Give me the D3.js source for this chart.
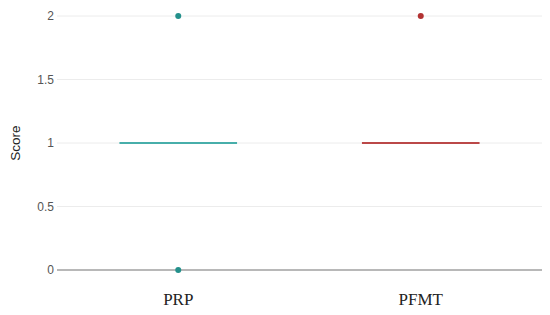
<!DOCTYPE html>
<html><head><meta charset="utf-8">
<script src="https://cdn.jsdelivr.net/npm/d3@7"></script>
<style>body{margin:0;background:#fff}svg{display:block}</style>
</head><body>
<svg id="c" width="550" height="315"></svg>
<script>
const categories = ["PRP", "PFMT"];
const q1 = [1, 1];
const medians = [1, 1];
const q3 = [1, 1];
const whiskerLow = [1, 1];
const whiskerHigh = [1, 1];
const outliers = [[0, 2], [2]];
const yTicks = [0, 0.5, 1, 1.5, 2];
const lineColors = ["#47aeaa", "#bb4848"];
const pointColors = ["#23908b", "#b23232"];

const svg = d3.select("#c");
const m = {l: 57, r: 8, t: 16, b: 45};
const W = 550, H = 315;
const x = d3.scaleBand().domain(categories).range([m.l, W - m.r]);
const y = d3.scaleLinear().domain([0, 2]).range([H - m.b, m.t]);

// grid
svg.append("g").selectAll("line").data(yTicks.filter(d => d !== 0)).join("line")
  .attr("x1", m.l).attr("x2", W - m.r)
  .attr("y1", d => y(d)).attr("y2", d => y(d))
  .attr("stroke", "#ececec").attr("stroke-width", 1);

// y axis labels
const ya = svg.append("g").attr("transform", `translate(${m.l},0)`)
  .call(d3.axisLeft(y).tickValues(yTicks).tickSize(0).tickPadding(3).tickFormat(d3.format("")));
ya.select(".domain").remove();
ya.selectAll("text").attr("font-family", "Liberation Sans, Arial, sans-serif")
  .attr("font-size", 12).attr("fill", "#555");

// zero line
svg.append("line").attr("x1", m.l).attr("x2", W - m.r)
  .attr("y1", y(0)).attr("y2", y(0)).attr("stroke", "#b8b8b8").attr("stroke-width", 2);

// boxes
const bw = x.bandwidth() * 0.485;
categories.forEach((c, i) => {
  const cx = x(c) + x.bandwidth() / 2;
  const g = svg.append("g");
  g.append("line").attr("x1", cx).attr("x2", cx)
    .attr("y1", y(whiskerLow[i])).attr("y2", y(whiskerHigh[i]))
    .attr("stroke", lineColors[i]).attr("stroke-width", 2);
  g.append("rect").attr("x", cx - bw / 2).attr("width", bw)
    .attr("y", y(q3[i])).attr("height", Math.max(0, y(q1[i]) - y(q3[i])))
    .attr("fill", "none").attr("stroke", lineColors[i]).attr("stroke-width", 2);
  g.append("line").attr("x1", cx - bw / 2).attr("x2", cx + bw / 2)
    .attr("y1", y(medians[i])).attr("y2", y(medians[i]))
    .attr("stroke", lineColors[i]).attr("stroke-width", 2.2);
  g.selectAll("circle").data(outliers[i]).join("circle")
    .attr("cx", cx).attr("cy", d => y(d)).attr("r", 3)
    .attr("fill", pointColors[i]);
});

// x labels
const xa = svg.append("g").attr("transform", `translate(0,${H - m.b})`)
  .call(d3.axisBottom(x).tickSize(0).tickPadding(23));
xa.select(".domain").remove();
xa.selectAll("text").attr("font-family", "Liberation Serif, Times New Roman, serif")
  .attr("font-size", 17).attr("fill", "#222");

// y title
svg.append("text").attr("transform", `translate(20,${y(1)}) rotate(-90)`)
  .attr("text-anchor", "middle").attr("font-family", "Liberation Sans, Arial, sans-serif")
  .attr("font-size", 13.5).attr("fill", "#222").text("Score");
</script>
</body></html>
